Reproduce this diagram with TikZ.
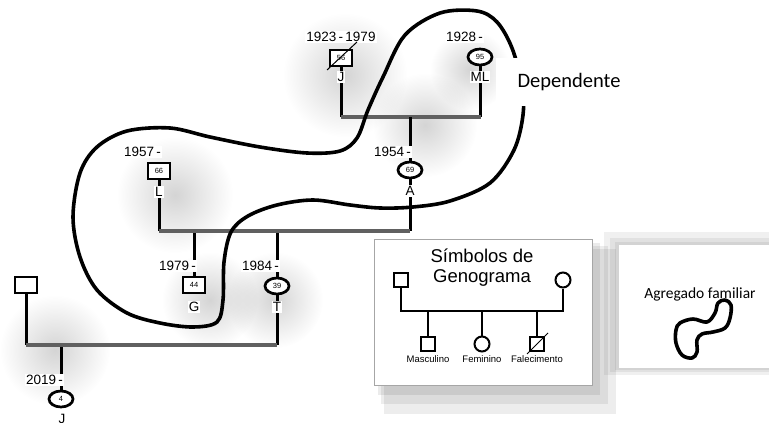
\documentclass[tikz,border=0pt]{standalone}
\usepackage{fontspec}
\setmainfont{Liberation Sans}
\newfontfamily\calib{Carlito}
\usetikzlibrary{shapes.geometric,backgrounds,fadings}
\tikzfading[name=softc, inner color=transparent!0, outer color=transparent!100]
\begin{document}
\begin{tikzpicture}[x=1pt,y=-1pt,
  sq/.style={draw, line width=2.7pt, fill=white, minimum width=22pt, minimum height=16pt, inner sep=0pt, font=\fontsize{7.5}{7.5}\selectfont},
  circ/.style={ellipse, draw, line width=2.7pt, fill=white, minimum width=24pt, minimum height=16pt, inner sep=0pt, font=\fontsize{7.5}{7.5}\selectfont},
  yr/.style={fill=white, inner sep=0.8pt, font=\fontsize{13.5}{13.5}\selectfont, anchor=east},
  nm/.style={fill=white, inner sep=1pt, font=\fontsize{13.5}{13.5}\selectfont},
  kin/.style={line width=3pt},
  mar/.style={line width=3.5pt, draw=gray!75!black},
  loopline/.style={line width=3.6pt, line join=round, line cap=round},
  blob/.style={fill=black, opacity=0.17, path fading=softc},
  lsq/.style={draw, line width=2pt, fill=white, minimum width=14pt, minimum height=14pt, inner sep=0pt},
  lci/.style={circle, draw, line width=2pt, fill=white, minimum size=15pt, inner sep=0pt},
  lk/.style={line width=2pt},
  ltx/.style={font=\fontsize{9.5}{9.5}\selectfont}
]
\useasboundingbox (0,0) rectangle (769,423);

% ---- generation 1
\node[sq] (J) at (341,58) {56};
\node[nm] (Jn) at (341,77) {J};
\node[nm] (Jy) at (341,37) {1923\,-\,1979};
\node[circ] (ML) at (480,57) {95};
\node[nm] (MLn) at (480,77) {ML};
\node[yr] (MLy) at (484,37) {1928\,-};
\coordinate (m1a) at (341,117);
\coordinate (m1b) at (481,117);
\coordinate (m1c) at (410,117);
% ---- generation 2
\node[circ] (A) at (410,170) {69};
\node[yr] (Ay) at (412,152) {1954\,-};
\node[nm] (An) at (410,191) {A};
\node[sq] (L) at (159,171) {66};
\node[yr] (Ly) at (162,152) {1957\,-};
\node[nm] (Ln) at (159,192) {L};
\coordinate (m2a) at (159,231);
\coordinate (m2b) at (410,231);
% ---- generation 3
\node[sq] (G) at (194,285) {44};
\node[yr] (Gy) at (197,266) {1979\,-};
\node[nm] (Gn) at (194,307) {G};
\node[circ] (T) at (277,286) {39};
\node[yr] (Ty) at (280,266) {1984\,-};
\node[nm] (Tn) at (277,307) {T};
\node[sq] (F) at (26,285) {};
\coordinate (m3a) at (26,345);
\coordinate (m3b) at (277,345);
\coordinate (m3c) at (61,345);
% ---- generation 4
\node[circ] (K) at (61,399) {4};
\node[yr] (Ky) at (64,380) {2019\,-};
\node[nm] (Kn) at (62,419) {J};

\begin{scope}[on background layer]
\fill[white] (0,0) rectangle (769,423);
% soft grey background shading
\fill[blob] (345,75) circle (62);
\fill[blob] (175,195) circle (58);
\fill[blob] (210,300) circle (48);
\fill[blob] (275,300) circle (48);
\fill[blob] (425,125) circle (52);
\fill[blob] (55,350) circle (55);
\fill[blob] (470,70) circle (40);
% legend shadow
\fill[black, opacity=0.07] (384,249) rectangle (616,414);
\fill[black, opacity=0.07] (381,246) rectangle (608,404);
\fill[black, opacity=0.08] (378,243) rectangle (600,395);
% agregado shadow
\fill[black, opacity=0.06] (604,232) rectangle (769,375);
\fill[black, opacity=0.06] (610,238) rectangle (769,372);
\fill[black, opacity=0.06] (615,242) rectangle (769,370);
% kinship lines
\draw[kin] (J) -- (J |- m1a);
\draw[kin] (ML) -- (ML |- m1b);
\draw[mar] (m1a) -- (m1b);
\draw[kin] (A) -- (m1c);
\draw[kin] (A) -- (m2b);
\draw[kin] (L) -- (L |- m2a);
\draw[kin] (G) -- (G |- m2a);
\draw[kin] (T) -- (T |- m2a);
\draw[mar] (m2a) -- (m2b);
\draw[kin] (T) -- (T |- m3b);
\draw[kin] (F) -- (F |- m3a);
\draw[kin] (K) -- (m3c);
\draw[mar] (m3a) -- (m3b);
\end{scope}
% death mark of J
\draw[line width=1pt] (327,70) -- (357,42);

% household loop
\draw[loopline] plot[smooth cycle, tension=0.55] coordinates {
 (440,13) (477,11) (497,22) (512,48) (522,85) (523,115) (514,150) (490,183)
 (450,201) (413,207) (380,208) (350,205) (313,200) (277,205) (248,216)
 (231,232) (224,262) (223,300) (217,322) (193,327) (160,323) (127,313)
 (97,290) (80,257) (73,217) (80,173) (97,147) (127,131) (170,128) (210,137)
 (260,147) (307,153) (340,151) (357,138) (368,110) (383,77) (405,35)};

% Dependente
\node[fill=white, minimum width=146pt, minimum height=48pt, inner sep=0pt,
      font=\calib\fontsize{20.5}{20.5}\selectfont] (dep) at (569,82) {Dependente};

% legend
\node[draw=gray!70, line width=0.8pt, fill=white, minimum width=218pt, minimum height=146pt, inner sep=0pt] (leg) at (483,312) {};
\node[font=\fontsize{18.5}{20}\selectfont, align=center] (legt) at (482,268) {Símbolos de\\Genograma};
\node[lsq] (lf) at (401,280) {};
\node[lci] (lm) at (563,280) {};
\coordinate (lbar) at (482,311);
\node[lsq] (c1) at (428,344) {};
\node[lci] (c2) at (482,344) {};
\node[lsq] (c3) at (537,344) {};
\draw[lk] (lf) |- (lbar) -| (lm);
\draw[lk] (c1) -- (c1 |- lbar);
\draw[lk] (c2) -- (c2 |- lbar);
\draw[lk] (c3) -- (c3 |- lbar);
\draw[line width=0.9pt] (527,354) -- (548,333);
\node[ltx] (c1t) at (428,359) {Masculino};
\node[ltx] (c2t) at (482,359) {Feminino};
\node[ltx] (c3t) at (537,359) {Falecimento};

% agregado familiar
\fill[white] (619,245) rectangle (769,368);
\node[font=\calib\fontsize{15.5}{15.5}\selectfont] (agt) at (700,294) {Agregado familiar};
\draw[line width=3.6pt, line join=round] plot[smooth cycle, tension=0.6] coordinates {
 (680,323) (693,319) (707,322) (715,313) (718,303) (725,300) (731,305) (730,318)
 (725,328) (713,332) (702,334) (697,340) (697,352) (692,358) (682,355) (676,343) (676,330)};
\end{tikzpicture}
\end{document}
